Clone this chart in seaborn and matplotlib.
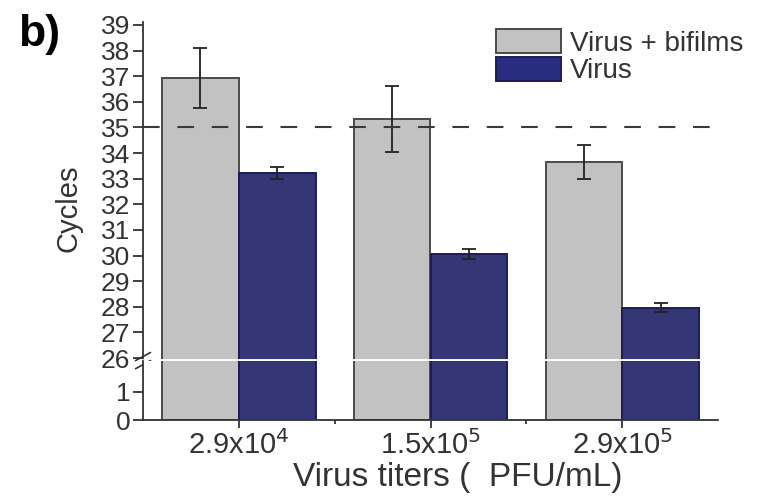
"""
Cycles vs virus titers, with and without biofilms (broken y axis).
"""

import matplotlib
matplotlib.use("Agg")
import matplotlib.pyplot as plt
import seaborn as sns
import pandas as pd

titers = ["2.9x10$^4$", "1.5x10$^5$", "2.9x10$^5$"]
groups = ["Virus + bifilms", "Virus"]
biofilm_cycles = [36.93, 35.32, 33.66]
biofilm_err = [1.17, 1.29, 0.66]
virus_cycles = [33.22, 30.05, 27.96]
virus_err = [0.25, 0.20, 0.17]
threshold = 35

colors = {"Virus + bifilms": "#c2c2c2", "Virus": "#2a2c80"}
edges = {"Virus + bifilms": "#4a4a4a", "Virus": "#1c1d55"}
text_col = "#333333"

df = pd.DataFrame({
    "titer": titers * 2,
    "group": [groups[0]] * 3 + [groups[1]] * 3,
    "cycles": biofilm_cycles + virus_cycles,
})
errors = {groups[0]: biofilm_err, groups[1]: virus_err}

sns.set_style("ticks")
plt.rcParams["font.family"] = ["Liberation Sans", "DejaVu Sans"]

fig = plt.figure(figsize=(7.72, 4.97), dpi=100)
W, H = 772, 497
left, right = 143 / W, 718 / W
top_y, brk_y, bot_y = 22.4, 360.6, 420
ax_top = fig.add_axes([left, 1 - brk_y / H, right - left, (brk_y - top_y) / H])
ax_bot = fig.add_axes([left, 1 - bot_y / H, right - left, (bot_y - brk_y) / H])

for ax in (ax_top, ax_bot):
    sns.barplot(data=df, x="titer", y="cycles", hue="group", hue_order=groups,
                palette=colors, errorbar=None, width=0.8, legend=False, ax=ax,
                zorder=2)
    for cont, g in zip(ax.containers, groups):
        for bar in cont:
            bar.set_edgecolor(edges[g])
            bar.set_linewidth(1.4)
        xs = [b.get_x() + b.get_width() / 2 for b in cont]
        ys = [b.get_height() for b in cont]
        ax.errorbar(xs, ys, yerr=errors[g], fmt="none", ecolor="#222222",
                    elinewidth=1.3, capsize=5, capthick=1.3, zorder=3)
    ax.set_xlim(-0.5, 2.5)
    ax.set_xlabel("")
    ax.set_ylabel("")
    for s in ("top", "right"):
        ax.spines[s].set_visible(False)
    ax.spines["left"].set_linewidth(1.3)
    ax.spines["left"].set_color(text_col)
    ax.tick_params(axis="y", length=7, width=1.3, color=text_col,
                   labelsize=19, labelcolor=text_col, pad=2)

ax_top.set_ylim(25.9, 39.1)
ax_top.set_yticks(range(26, 40))
ax_top.spines["bottom"].set_visible(False)
ax_top.tick_params(axis="x", bottom=False, labelbottom=False)
ax_top.axhline(threshold, color="#3a3a3a", lw=1.5, ls=(0, (8, 8.5)), zorder=4)
ax_top.set_ylabel("Cycles", fontsize=21, color=text_col)
ax_top.yaxis.set_label_coords(-0.106, 0.45)

ax_bot.set_ylim(0, 2.12)
ax_bot.set_yticks([0, 1])
ax_bot.spines["bottom"].set_linewidth(1.3)
ax_bot.spines["bottom"].set_color(text_col)
ax_bot.set_xticks([0, 1, 2])
ax_bot.set_xticklabels(titers)
ax_bot.set_xticks([0.5, 1.5], minor=True)
ax_bot.tick_params(axis="x", which="major", length=6, width=1.3,
                   color=text_col, labelsize=21, labelcolor=text_col, pad=1)
ax_bot.tick_params(axis="x", which="minor", length=3, width=1.3,
                   color=text_col)
ax_bot.set_xlabel("Virus titers (  PFU/mL)", fontsize=24, color=text_col)
ax_bot.xaxis.set_label_coords(0.548, -0.70)

# white break line across the bars and the break marks on the axis
ax_top.axhline(25.9, color="white", lw=3.5, clip_on=False, zorder=6)
for dy in (-0.012, 0.012):
    ax_top.plot([-0.013, 0.013], [dy - 0.012, dy + 0.012],
                transform=ax_top.transAxes, color=text_col, lw=1.2,
                clip_on=False, zorder=7)

handles = [plt.Rectangle((0, 0), 1, 1, facecolor=colors[g], edgecolor=edges[g],
                         lw=1.4) for g in groups]
fig.legend(handles, groups, loc="upper left",
           bbox_to_anchor=(485 / W, 1 - 18 / H), frameon=False, fontsize=20,
           handlelength=2.35, handleheight=0.95, labelspacing=0.0,
           handletextpad=0.3, borderaxespad=0, labelcolor=text_col)

fig.text(18 / W, 1 - 46 / H, "b)", fontsize=32, fontweight="bold",
         color="black")

fig.savefig("out.png", dpi=100)
